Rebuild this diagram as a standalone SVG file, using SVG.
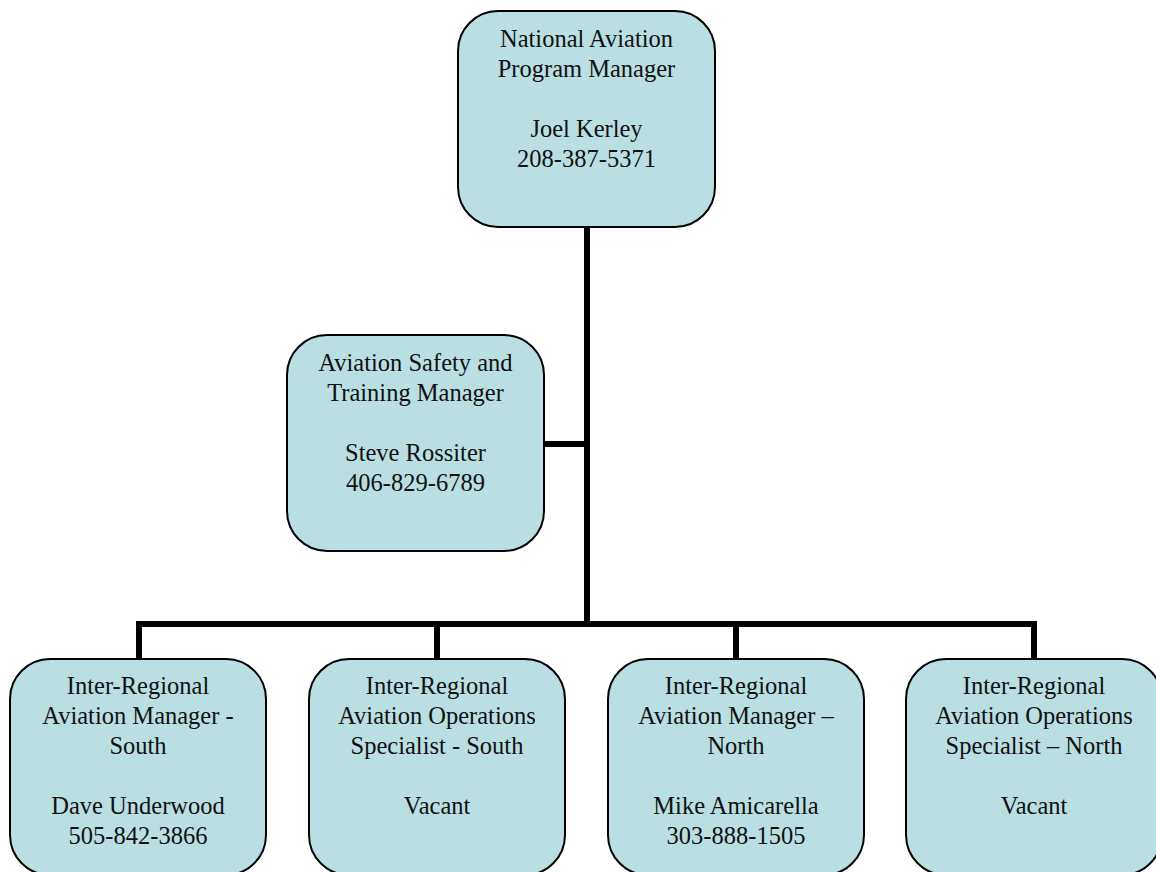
<svg xmlns="http://www.w3.org/2000/svg" width="1156" height="872" viewBox="0 0 1156 872">
<style>
.box{fill:#b9dfe3;stroke:#000;stroke-width:2}
.t{font-family:"Liberation Serif","Times New Roman",serif;font-size:24.5px;fill:#111;text-anchor:middle}
.c{stroke:#000;stroke-width:6;fill:none}
</style>
<rect width="1156" height="872" fill="#fff"/>
<g id="connectors">
<line class="c" x1="587" y1="227" x2="587" y2="627"/>
<line class="c" x1="544" y1="444" x2="590" y2="444"/>
<polyline class="c" points="139,659 139,624 1034,624 1034,659"/>
<line class="c" x1="437" y1="624" x2="437" y2="659"/>
<line class="c" x1="736" y1="624" x2="736" y2="659"/>
</g>
<g id="node-national">
<rect class="box" x="458" y="11" width="257" height="216" rx="40"/>
<text class="t" x="586.5" y="47">National Aviation</text>
<text class="t" x="586.5" y="77">Program Manager</text>
<text class="t" x="586.5" y="137">Joel Kerley</text>
<text class="t" x="586.5" y="167">208-387-5371</text>
</g>
<g id="node-safety">
<rect class="box" x="287" y="335" width="257" height="216" rx="40"/>
<text class="t" x="415.5" y="371">Aviation Safety and</text>
<text class="t" x="415.5" y="401">Training Manager</text>
<text class="t" x="415.5" y="461">Steve Rossiter</text>
<text class="t" x="415.5" y="491">406-829-6789</text>
</g>
<g id="node-irm-south">
<rect class="box" x="10" y="659" width="256" height="216" rx="40"/>
<text class="t" x="138" y="694">Inter-Regional</text>
<text class="t" x="138" y="724">Aviation Manager -</text>
<text class="t" x="138" y="754">South</text>
<text class="t" x="138" y="814">Dave Underwood</text>
<text class="t" x="138" y="844">505-842-3866</text>
</g>
<g id="node-iro-south">
<rect class="box" x="309" y="659" width="256" height="216" rx="40"/>
<text class="t" x="437" y="694">Inter-Regional</text>
<text class="t" x="437" y="724">Aviation Operations</text>
<text class="t" x="437" y="754">Specialist - South</text>
<text class="t" x="437" y="814">Vacant</text>
</g>
<g id="node-irm-north">
<rect class="box" x="608" y="659" width="256" height="216" rx="40"/>
<text class="t" x="736" y="694">Inter-Regional</text>
<text class="t" x="736" y="724">Aviation Manager –</text>
<text class="t" x="736" y="754">North</text>
<text class="t" x="736" y="814">Mike Amicarella</text>
<text class="t" x="736" y="844">303-888-1505</text>
</g>
<g id="node-iro-north">
<rect class="box" x="906" y="659" width="256" height="216" rx="40"/>
<text class="t" x="1034" y="694">Inter-Regional</text>
<text class="t" x="1034" y="724">Aviation Operations</text>
<text class="t" x="1034" y="754">Specialist – North</text>
<text class="t" x="1034" y="814">Vacant</text>
</g>
</svg>
